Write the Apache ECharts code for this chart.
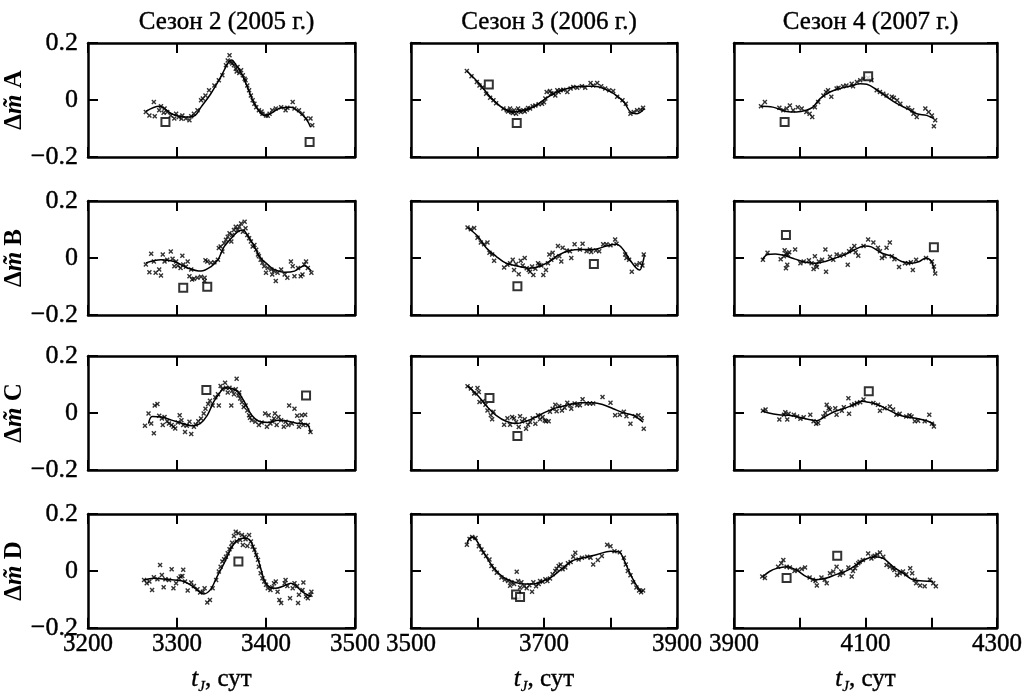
<!DOCTYPE html>
<html><head><meta charset="utf-8">
<script src="https://cdn.jsdelivr.net/npm/echarts@6/dist/echarts.min.js"></script>
<style>html,body{margin:0;padding:0;background:#fff}#c{width:1029px;height:696px}</style>
</head><body><div id="c"></div><script>
const seasonTitles = ['Сезон 2 (2005 г.)', 'Сезон 3 (2006 г.)', 'Сезон 4 (2007 г.)'];
const rowNames = ['A', 'B', 'C', 'D'];
const xRanges = [[3200, 3500], [3500, 3900], [3900, 4300]];
const yTicks = [-0.2, 0, 0.2];

// ---- Season 2 (2005) ----
const ptsA1 = [[3265,-0.042],[3269,-0.054],[3274,-0.007],[3275,-0.057],[3280,-0.036],[3282,-0.022],[3285,-0.045],[3286,-0.030],[3289,-0.042],[3293,-0.054],[3297,-0.065],[3299,-0.048],[3302,-0.060],[3305,-0.066],[3306,-0.054],[3310,-0.065],[3314,-0.071],[3316,-0.057],[3319,-0.048],[3323,-0.036],[3327,-0.001],[3329,0.005],[3332,0.016],[3336,0.034],[3342,0.051],[3347,0.069],[3351,0.087],[3355,0.122],[3357,0.139],[3359,0.157],[3361,0.133],[3362,0.128],[3364,0.122],[3366,0.110],[3367,0.100],[3368,0.116],[3370,0.095],[3372,0.104],[3374,0.087],[3376,0.075],[3377,0.069],[3379,0.051],[3381,0.034],[3383,0.016],[3385,-0.001],[3387,-0.013],[3389,-0.025],[3392,-0.036],[3395,-0.040],[3396,-0.048],[3400,-0.054],[3402,-0.055],[3404,-0.048],[3407,-0.036],[3411,-0.030],[3417,-0.025],[3422,-0.036],[3424,-0.027],[3430,-0.007],[3432,-0.030],[3437,-0.036],[3441,-0.048],[3445,-0.065],[3450,-0.065],[3452,-0.089]];
const lineA1 = [[3265,-0.040],[3280,-0.022],[3295,-0.050],[3310,-0.060],[3320,-0.055],[3327,-0.025],[3338,0.022],[3349,0.080],[3357,0.128],[3361,0.140],[3367,0.120],[3373,0.090],[3379,0.046],[3387,-0.013],[3398,-0.054],[3405,-0.048],[3417,-0.027],[3428,-0.025],[3437,-0.042],[3445,-0.066],[3450,-0.095]];
const sqA1 = [[3287,-0.077],[3449,-0.147]];

const ptsB1 = [[3265,-0.023],[3269,-0.050],[3271,0.015],[3274,-0.012],[3276,-0.052],[3280,-0.040],[3282,-0.061],[3284,0.012],[3286,-0.012],[3289,-0.006],[3293,0.023],[3295,-0.003],[3297,-0.029],[3299,-0.012],[3301,-0.027],[3304,-0.035],[3306,0.008],[3307,-0.023],[3310,-0.031],[3312,-0.012],[3314,-0.064],[3316,-0.040],[3317,-0.075],[3319,-0.073],[3323,-0.069],[3327,-0.066],[3331,-0.069],[3331,-0.081],[3332,-0.008],[3334,-0.012],[3338,-0.017],[3342,-0.015],[3346,-0.006],[3347,0.035],[3349,0.040],[3351,0.023],[3353,0.052],[3355,0.064],[3357,0.075],[3359,0.087],[3361,0.058],[3362,0.081],[3364,0.098],[3366,0.110],[3368,0.098],[3370,0.110],[3372,0.121],[3374,0.092],[3376,0.127],[3377,0.104],[3379,0.081],[3381,0.069],[3383,0.058],[3385,0.040],[3387,0.046],[3389,0.029],[3391,0.012],[3392,0.006],[3394,-0.006],[3396,-0.017],[3398,-0.029],[3400,-0.052],[3402,-0.035],[3406,-0.040],[3407,-0.058],[3409,-0.046],[3411,-0.081],[3413,-0.052],[3417,-0.040],[3421,-0.058],[3424,-0.069],[3428,-0.012],[3430,-0.029],[3432,-0.064],[3436,-0.035],[3439,-0.064],[3441,-0.058],[3443,-0.023],[3445,-0.012],[3447,-0.035],[3451,-0.052]];
const lineB1 = [[3265,-0.017],[3282,-0.006],[3297,-0.012],[3312,-0.035],[3327,-0.046],[3338,-0.031],[3346,-0.006],[3353,0.040],[3361,0.069],[3368,0.092],[3374,0.098],[3379,0.081],[3387,0.040],[3394,0.000],[3402,-0.023],[3409,-0.040],[3421,-0.050],[3432,-0.046],[3443,-0.027],[3451,-0.046]];
const sqB1 = [[3307,-0.104],[3334,-0.101]];

const ptsC1 = [[3264,-0.045],[3268,-0.002],[3271,-0.037],[3274,-0.071],[3275,0.026],[3278,0.032],[3280,-0.010],[3283,-0.019],[3284,-0.042],[3286,-0.014],[3289,-0.029],[3291,-0.037],[3294,-0.042],[3296,-0.048],[3298,-0.054],[3301,-0.033],[3303,-0.008],[3305,-0.025],[3307,-0.042],[3309,-0.067],[3311,-0.045],[3314,-0.031],[3316,-0.074],[3319,-0.048],[3321,-0.040],[3324,-0.029],[3327,-0.019],[3330,-0.002],[3332,0.015],[3335,0.032],[3337,0.043],[3340,0.026],[3343,0.055],[3346,0.066],[3347,0.026],[3349,0.095],[3351,0.083],[3354,0.106],[3355,0.089],[3357,0.072],[3359,0.089],[3361,0.026],[3362,0.078],[3364,0.066],[3366,0.083],[3367,0.120],[3369,0.061],[3370,0.072],[3371,0.051],[3373,0.038],[3375,0.021],[3377,0.026],[3379,0.009],[3381,-0.008],[3382,-0.017],[3384,-0.025],[3388,-0.031],[3392,-0.042],[3395,-0.033],[3399,-0.002],[3401,-0.048],[3403,-0.008],[3405,-0.037],[3407,-0.029],[3409,-0.019],[3410,-0.002],[3412,-0.042],[3414,-0.014],[3417,-0.025],[3420,-0.048],[3422,-0.031],[3425,-0.042],[3426,0.026],[3429,-0.037],[3432,0.015],[3435,-0.010],[3437,-0.048],[3439,-0.029],[3440,-0.008],[3442,-0.042],[3444,-0.006],[3447,-0.042],[3450,-0.067]];
const lineC1 = [[3268,-0.037],[3272,-0.012],[3283,-0.014],[3294,-0.025],[3306,-0.037],[3317,-0.045],[3326,-0.037],[3334,-0.008],[3341,0.038],[3347,0.066],[3354,0.089],[3362,0.086],[3369,0.072],[3377,0.032],[3384,-0.008],[3392,-0.029],[3403,-0.033],[3414,-0.025],[3425,-0.029],[3437,-0.037],[3446,-0.040],[3450,-0.067]];
const sqC1 = [[3333,0.081],[3445,0.061]];

const ptsD1 = [[3263,-0.032],[3266,-0.043],[3269,-0.037],[3272,-0.067],[3274,-0.022],[3278,-0.029],[3281,0.021],[3283,-0.014],[3285,-0.057],[3287,-0.029],[3291,-0.032],[3294,0.006],[3296,-0.061],[3299,-0.043],[3302,-0.026],[3304,-0.020],[3306,-0.018],[3307,0.004],[3309,-0.037],[3312,-0.069],[3316,-0.041],[3319,-0.053],[3323,-0.064],[3326,-0.076],[3329,-0.073],[3331,-0.061],[3334,-0.111],[3337,-0.102],[3340,-0.061],[3344,-0.032],[3347,-0.002],[3349,0.015],[3351,0.033],[3353,0.041],[3355,0.050],[3357,0.062],[3359,0.076],[3361,0.085],[3362,0.099],[3364,0.123],[3366,0.138],[3367,0.103],[3369,0.132],[3371,0.109],[3373,0.126],[3374,0.091],[3376,0.120],[3377,0.111],[3379,0.088],[3381,0.126],[3383,0.103],[3385,0.085],[3387,0.074],[3389,0.056],[3391,0.039],[3392,0.015],[3394,-0.008],[3396,-0.026],[3398,-0.037],[3400,-0.049],[3402,-0.061],[3405,-0.067],[3407,-0.057],[3409,-0.043],[3411,-0.037],[3413,-0.073],[3415,-0.102],[3417,-0.113],[3421,-0.043],[3422,-0.032],[3424,-0.053],[3427,-0.096],[3430,-0.061],[3432,-0.043],[3435,-0.053],[3436,-0.113],[3437,-0.084],[3441,-0.067],[3442,-0.041],[3445,-0.090],[3447,-0.096],[3450,-0.084],[3451,-0.073]];
const lineD1 = [[3263,-0.032],[3274,-0.026],[3286,-0.029],[3297,-0.032],[3308,-0.037],[3317,-0.053],[3325,-0.073],[3330,-0.081],[3338,-0.064],[3345,-0.020],[3353,0.027],[3360,0.074],[3366,0.103],[3374,0.115],[3381,0.111],[3387,0.074],[3393,0.021],[3398,-0.032],[3404,-0.057],[3411,-0.061],[3420,-0.053],[3428,-0.043],[3435,-0.057],[3443,-0.078],[3451,-0.090]];
const sqD1 = [[3369,0.033]];

// ---- Season 3 (2006) ----
const ptsA2 = [[3584,0.102],[3591,0.083],[3599,0.063],[3603,0.051],[3607,0.043],[3613,0.022],[3619,0.008],[3624,-0.001],[3628,-0.011],[3639,-0.030],[3644,-0.036],[3646,-0.040],[3649,-0.030],[3651,-0.042],[3653,-0.046],[3655,-0.036],[3658,-0.048],[3661,-0.030],[3663,-0.038],[3665,-0.042],[3669,-0.036],[3671,-0.040],[3674,-0.034],[3676,-0.028],[3679,-0.030],[3683,-0.022],[3687,-0.019],[3692,-0.015],[3697,-0.013],[3700,-0.008],[3702,0.005],[3704,0.028],[3709,0.032],[3711,0.024],[3714,0.022],[3717,0.016],[3720,0.034],[3722,0.028],[3725,0.034],[3729,0.036],[3735,0.028],[3740,0.040],[3744,0.046],[3750,0.043],[3757,0.048],[3762,0.043],[3770,0.060],[3774,0.051],[3780,0.060],[3786,0.048],[3792,0.040],[3798,0.034],[3804,0.032],[3810,0.011],[3818,-0.001],[3823,-0.013],[3830,-0.048],[3835,-0.042],[3840,-0.036],[3845,-0.034],[3849,-0.027]];
const lineA2 = [[3584,0.102],[3603,0.057],[3619,0.011],[3639,-0.030],[3654,-0.042],[3669,-0.036],[3684,-0.025],[3699,-0.001],[3714,0.022],[3729,0.036],[3745,0.046],[3760,0.048],[3775,0.048],[3790,0.040],[3805,0.022],[3820,-0.007],[3830,-0.042],[3840,-0.048],[3851,-0.030]];
const sqA2 = [[3617,0.054],[3659,-0.081]];

const ptsB2 = [[3585,0.107],[3590,0.101],[3595,0.105],[3600,0.071],[3605,0.054],[3610,0.048],[3615,0.054],[3618,0.018],[3622,0.012],[3625,-0.010],[3640,-0.033],[3645,-0.024],[3649,-0.018],[3653,-0.006],[3655,-0.042],[3658,-0.021],[3662,-0.057],[3665,-0.010],[3668,-0.026],[3671,0.000],[3674,-0.036],[3677,-0.042],[3679,-0.048],[3682,-0.030],[3684,-0.060],[3687,-0.038],[3691,-0.018],[3693,-0.024],[3696,-0.026],[3699,-0.060],[3703,-0.042],[3706,-0.018],[3708,0.012],[3711,-0.006],[3713,0.018],[3717,0.002],[3721,0.042],[3723,0.006],[3726,-0.012],[3728,0.036],[3734,0.026],[3739,0.024],[3741,0.000],[3746,0.048],[3754,0.030],[3758,0.050],[3764,0.024],[3769,0.030],[3771,0.021],[3778,0.026],[3783,0.024],[3789,0.048],[3794,0.048],[3800,0.045],[3807,0.065],[3809,0.050],[3822,0.012],[3824,0.000],[3828,-0.006],[3832,-0.048],[3839,-0.024],[3844,-0.018],[3848,-0.026],[3850,0.012]];
const lineB2 = [[3585,0.107],[3600,0.077],[3613,0.036],[3628,0.006],[3643,-0.018],[3663,-0.030],[3678,-0.036],[3693,-0.030],[3708,-0.012],[3723,0.012],[3739,0.026],[3754,0.030],[3774,0.030],[3794,0.042],[3809,0.048],[3819,0.030],[3829,-0.006],[3839,-0.036],[3844,-0.042],[3849,-0.012],[3851,0.012]];
const sqB2 = [[3660,-0.099],[3775,-0.021]];

const ptsC2 = [[3585,0.094],[3590,0.086],[3595,0.068],[3600,0.088],[3602,0.074],[3603,0.039],[3608,0.041],[3612,0.029],[3615,0.009],[3620,-0.008],[3624,0.004],[3622,-0.022],[3640,-0.041],[3645,-0.018],[3649,-0.041],[3652,-0.014],[3655,-0.018],[3658,-0.032],[3662,-0.049],[3664,-0.011],[3667,-0.029],[3671,-0.022],[3673,-0.055],[3676,-0.041],[3679,-0.032],[3683,-0.018],[3687,-0.038],[3691,-0.008],[3694,-0.022],[3698,-0.014],[3701,-0.026],[3703,-0.029],[3707,-0.029],[3709,0.004],[3713,0.015],[3717,0.029],[3719,0.006],[3723,0.025],[3727,0.009],[3731,0.018],[3735,0.036],[3739,0.027],[3741,0.015],[3746,0.033],[3750,0.027],[3754,0.027],[3758,0.048],[3764,0.033],[3769,0.033],[3774,0.033],[3788,0.056],[3800,0.036],[3807,-0.008],[3814,-0.006],[3820,0.004],[3824,-0.011],[3830,-0.038],[3837,-0.011],[3842,-0.008],[3847,-0.018],[3850,-0.055]];
const lineC2 = [[3585,0.095],[3600,0.062],[3615,0.021],[3628,-0.008],[3643,-0.029],[3658,-0.037],[3673,-0.029],[3688,-0.014],[3703,0.004],[3718,0.018],[3734,0.027],[3754,0.036],[3774,0.036],[3789,0.029],[3804,0.015],[3819,0.001],[3834,-0.008],[3849,-0.032]];
const sqC2 = [[3618,0.053],[3660,-0.081]];

const ptsD2 = [[3584,0.092],[3588,0.112],[3592,0.119],[3597,0.116],[3602,0.087],[3606,0.075],[3609,0.064],[3613,0.052],[3618,0.040],[3621,0.017],[3625,0.006],[3629,-0.006],[3636,-0.023],[3641,-0.031],[3646,-0.035],[3649,-0.052],[3651,-0.040],[3655,-0.046],[3659,-0.003],[3661,-0.035],[3664,-0.058],[3666,-0.040],[3670,-0.054],[3674,-0.061],[3678,-0.050],[3682,-0.073],[3684,-0.040],[3688,-0.054],[3692,-0.046],[3694,-0.035],[3698,-0.038],[3702,-0.029],[3705,-0.035],[3709,-0.027],[3713,-0.012],[3717,0.000],[3719,0.008],[3722,0.017],[3725,0.023],[3728,0.006],[3732,0.012],[3736,0.027],[3740,0.031],[3744,0.050],[3747,0.064],[3752,0.040],[3757,0.046],[3765,0.050],[3770,0.046],[3774,0.023],[3781,0.038],[3787,0.052],[3795,0.092],[3800,0.087],[3806,0.069],[3814,0.066],[3820,0.046],[3823,0.023],[3826,0.000],[3830,-0.015],[3834,-0.040],[3839,-0.058],[3843,-0.069],[3846,-0.075],[3849,-0.069]];
const lineD2 = [[3584,0.096],[3591,0.119],[3597,0.112],[3608,0.069],[3624,0.012],[3639,-0.023],[3654,-0.038],[3669,-0.046],[3684,-0.046],[3699,-0.035],[3714,-0.017],[3729,0.012],[3745,0.038],[3760,0.046],[3780,0.058],[3800,0.069],[3813,0.066],[3820,0.040],[3830,-0.012],[3840,-0.054],[3848,-0.075]];
const sqD2 = [[3658,-0.083],[3664,-0.092]];

// ---- Season 4 (2007) ----
const ptsA3 = [[3941,-0.022],[3947,-0.007],[3969,-0.027],[3975,-0.036],[3980,-0.030],[3985,-0.019],[3990,-0.036],[3997,-0.025],[4003,-0.030],[4010,-0.042],[4015,-0.048],[4019,-0.060],[4023,-0.025],[4028,-0.007],[4036,0.016],[4040,0.028],[4043,0.034],[4048,0.011],[4056,0.040],[4059,0.043],[4066,0.048],[4071,0.051],[4079,0.057],[4081,0.048],[4087,0.063],[4092,0.069],[4097,0.075],[4104,0.078],[4109,0.069],[4117,0.034],[4122,0.028],[4127,0.022],[4132,0.016],[4140,0.011],[4143,0.008],[4148,-0.001],[4153,-0.013],[4165,-0.027],[4171,-0.036],[4173,-0.048],[4178,-0.060],[4191,-0.030],[4196,-0.042],[4201,-0.054],[4206,-0.071],[4204,-0.092]];
const lineA3 = [[3941,-0.022],[3959,-0.025],[3980,-0.040],[3995,-0.042],[4010,-0.036],[4020,-0.025],[4031,0.005],[4046,0.028],[4061,0.040],[4076,0.048],[4092,0.057],[4102,0.055],[4117,0.036],[4132,0.011],[4148,-0.013],[4163,-0.030],[4178,-0.048],[4193,-0.054],[4204,-0.065]];
const sqA3 = [[3977,-0.077],[4104,0.083]];

const ptsB3 = [[3944,-0.006],[3951,0.018],[3971,-0.004],[3976,0.006],[3977,0.027],[3979,0.015],[3982,0.012],[3984,0.020],[3981,-0.024],[3979,-0.036],[3993,0.030],[4001,-0.018],[4006,-0.012],[4014,-0.008],[4018,-0.018],[4021,-0.039],[4023,0.006],[4025,-0.024],[4026,-0.032],[4029,-0.012],[4034,-0.006],[4039,0.030],[4040,-0.048],[4046,0.004],[4051,-0.006],[4056,0.012],[4061,0.008],[4067,0.012],[4073,-0.024],[4075,0.024],[4079,0.032],[4083,0.042],[4085,0.020],[4089,0.008],[4097,0.042],[4104,0.065],[4112,0.054],[4119,0.036],[4122,0.024],[4125,0.000],[4129,0.006],[4132,0.036],[4137,0.054],[4140,0.006],[4144,-0.004],[4151,-0.032],[4160,-0.018],[4165,-0.018],[4169,-0.015],[4172,-0.042],[4177,-0.006],[4192,0.000],[4201,-0.012],[4204,-0.030],[4206,-0.054]];
const lineB3 = [[3943,-0.006],[3951,0.012],[3963,0.014],[3978,0.008],[3993,-0.004],[4009,-0.015],[4024,-0.018],[4039,-0.012],[4054,0.000],[4069,0.012],[4084,0.030],[4099,0.042],[4109,0.039],[4124,0.018],[4140,0.006],[4155,-0.012],[4170,-0.018],[4182,-0.012],[4192,0.000],[4200,-0.012],[4205,-0.048]];
const sqB3 = [[3979,0.081],[4204,0.038]];

const ptsC3 = [[3944,0.008],[3948,0.012],[3969,-0.023],[3976,-0.006],[3978,0.003],[3981,-0.023],[3983,-0.003],[3991,-0.006],[3996,-0.012],[4001,-0.020],[4006,-0.015],[4016,-0.006],[4021,-0.029],[4025,-0.038],[4028,-0.035],[4036,-0.012],[4039,0.000],[4041,0.029],[4044,0.017],[4046,0.012],[4054,0.017],[4056,-0.006],[4064,0.008],[4067,0.020],[4074,0.052],[4075,-0.003],[4079,0.027],[4083,0.031],[4087,0.035],[4092,0.038],[4097,0.047],[4112,0.035],[4119,0.029],[4122,0.008],[4129,0.017],[4137,0.023],[4142,0.012],[4147,-0.006],[4152,-0.003],[4162,-0.012],[4167,-0.008],[4170,-0.012],[4175,-0.029],[4180,-0.027],[4190,-0.029],[4197,-0.006],[4201,-0.038],[4204,-0.047]];
const lineC3 = [[3943,0.008],[3953,0.000],[3968,-0.006],[3983,-0.008],[3999,-0.015],[4014,-0.023],[4026,-0.027],[4039,-0.012],[4054,0.006],[4069,0.017],[4084,0.031],[4094,0.041],[4104,0.038],[4119,0.029],[4134,0.012],[4150,-0.006],[4165,-0.015],[4180,-0.020],[4195,-0.029],[4205,-0.041]];
const sqC3 = [[4105,0.076]];

const ptsD3 = [[3943,-0.020],[3947,-0.025],[3967,0.015],[3972,0.027],[3975,0.038],[3980,0.015],[3985,0.012],[3992,0.000],[3997,0.003],[4003,0.007],[4008,0.012],[4015,-0.023],[4020,-0.031],[4024,-0.035],[4026,-0.051],[4033,-0.023],[4038,-0.031],[4041,-0.043],[4046,-0.008],[4051,-0.002],[4056,0.015],[4061,-0.014],[4063,-0.002],[4066,-0.008],[4074,0.012],[4079,-0.020],[4081,0.000],[4084,0.009],[4086,0.021],[4089,0.027],[4091,0.032],[4096,0.038],[4104,0.061],[4109,0.044],[4112,0.050],[4114,0.053],[4118,0.058],[4122,0.065],[4127,0.050],[4132,0.021],[4137,0.015],[4142,0.009],[4144,0.003],[4148,-0.014],[4152,-0.008],[4157,-0.002],[4162,-0.012],[4168,0.009],[4171,-0.008],[4175,-0.031],[4177,-0.043],[4183,-0.051],[4190,-0.054],[4198,-0.031],[4203,-0.043],[4207,-0.054]];
const lineD3 = [[3944,-0.020],[3954,-0.002],[3965,0.009],[3980,0.015],[3995,0.003],[4010,-0.020],[4025,-0.031],[4041,-0.025],[4056,-0.012],[4071,0.000],[4086,0.021],[4101,0.042],[4114,0.050],[4127,0.044],[4142,0.015],[4157,-0.008],[4172,-0.031],[4188,-0.035],[4203,-0.037]];
const sqD3 = [[3980,-0.025],[4057,0.053]];

// panels[row][col] = [points, fit line, outliers]
const panels = [
  [[ptsA1, lineA1, sqA1], [ptsA2, lineA2, sqA2], [ptsA3, lineA3, sqA3]],
  [[ptsB1, lineB1, sqB1], [ptsB2, lineB2, sqB2], [ptsB3, lineB3, sqB3]],
  [[ptsC1, lineC1, sqC1], [ptsC2, lineC2, sqC2], [ptsC3, lineC3, sqC3]],
  [[ptsD1, lineD1, sqD1], [ptsD2, lineD2, sqD2], [ptsD3, lineD3, sqD3]]
];

// ---- layout ----
const FONT = '"Liberation Serif", "Times New Roman", serif';
const gLeft = [88, 411, 734];
const gWidth = [267, 266, 263];
const gTop = [43, 201, 356, 514];
const gHeight = 114;
const XSYM = 'path://M0,2L2,0L5,3L8,0L10,2L7,5L10,8L8,10L5,7L2,10L0,8L3,5Z';
const THICK = {textBorderColor: '#000', textBorderWidth: 0.4};

const grids = [], xAxes = [], yAxes = [], series = [];
const axisLine = {show: true, onZero: false, lineStyle: {color: '#000', width: 2.5}};
const axisTick = {show: true, inside: true, length: 10, lineStyle: {color: '#000', width: 2}};
const yFmt = v => Math.abs(v) < 1e-9 ? '0' : (v < 0 ? '\u2212' : '') + Math.abs(v).toFixed(1);

let gi = 0;
for (let r = 0; r < 4; r++) {
  for (let c = 0; c < 3; c++) {
    grids.push({left: gLeft[c], top: gTop[r], width: gWidth[c], height: gHeight, containLabel: false});
    const [mn, mx] = xRanges[c];
    const bottom = r === 3;
    xAxes.push({
      gridIndex: gi, type: 'value', position: 'bottom', min: mn, max: mx, interval: 100,
      axisLine, axisTick, splitLine: {show: false},
      axisLabel: Object.assign({
        show: bottom, showMinLabel: true, showMaxLabel: true, margin: 4,
        color: '#000', fontSize: 25, fontFamily: FONT,
        formatter: v => (c === 0 || (v - mn) % 200 === 0) ? String(v) : ''
      }, THICK),
      name: bottom ? '{t|t}{j|J}{n|, сут}' : '',
      nameLocation: 'middle', nameGap: 37,
      nameTextStyle: {
        color: '#000', fontFamily: FONT,
        rich: {
          t: Object.assign({fontSize: 25, fontStyle: 'italic', fontFamily: FONT, color: '#000', lineHeight: 30, verticalAlign: 'middle'}, THICK),
          j: Object.assign({fontSize: 15, fontStyle: 'italic', fontFamily: FONT, color: '#000', lineHeight: 14, verticalAlign: 'bottom'}, {textBorderColor: '#000', textBorderWidth: 0.3}),
          n: Object.assign({fontSize: 25, fontFamily: FONT, color: '#000', lineHeight: 30, verticalAlign: 'middle'}, THICK)
        }
      }
    });
    xAxes.push({
      gridIndex: gi, type: 'value', position: 'top', min: mn, max: mx, interval: 100,
      axisLine, axisTick, splitLine: {show: false}, axisLabel: {show: false}
    });
    yAxes.push({
      gridIndex: gi, type: 'value', position: 'left', min: yTicks[0], max: yTicks[2], interval: 0.2,
      axisLine, axisTick, splitLine: {show: false},
      axisLabel: Object.assign({show: c === 0, showMinLabel: true, showMaxLabel: true, margin: 10, color: '#000', fontSize: 26, fontFamily: FONT, formatter: yFmt}, THICK),
      name: c === 0 ? '{d|\u0394}{m|m\u0303}{d| ' + rowNames[r] + '}' : '',
      nameLocation: 'middle', nameGap: 52, nameRotate: 90,
      nameTextStyle: {
        color: '#000', fontFamily: FONT,
        rich: {
          d: {fontSize: 25, fontWeight: 'bold', fontFamily: FONT, color: '#000'},
          m: {fontSize: 25, fontWeight: 'bold', fontStyle: 'italic', fontFamily: FONT, color: '#000'}
        }
      }
    });
    yAxes.push({
      gridIndex: gi, type: 'value', position: 'right', min: yTicks[0], max: yTicks[2], interval: 0.2,
      axisLine, axisTick, splitLine: {show: false}, axisLabel: {show: false}
    });
    const [pts, fit, sq] = panels[r][c];
    series.push({
      type: 'line', xAxisIndex: 2 * gi, yAxisIndex: 2 * gi, data: fit, smooth: 0.35,
      showSymbol: false, lineStyle: {color: '#000', width: 1.5}, z: 2, silent: true
    });
    series.push({
      type: 'scatter', xAxisIndex: 2 * gi, yAxisIndex: 2 * gi, data: pts,
      symbol: XSYM, symbolSize: 5, itemStyle: {color: '#000'}, z: 3, silent: true
    });
    series.push({
      type: 'scatter', xAxisIndex: 2 * gi, yAxisIndex: 2 * gi, data: sq,
      symbol: 'rect', symbolSize: 8, itemStyle: {color: '#fff', borderColor: '#000', borderWidth: 2}, z: 4, silent: true
    });
    gi++;
  }
}

const titles = seasonTitles.map((t, c) => ({
  text: t, left: gLeft[c] + gWidth[c] / 2, top: 5, textAlign: 'center',
  textStyle: Object.assign({fontSize: 25, fontWeight: 'normal', fontFamily: FONT, color: '#000'}, {textBorderColor: '#000', textBorderWidth: 0.4})
}));

const chart = echarts.init(document.getElementById('c'), null, {renderer: 'canvas'});
chart.setOption({
  animation: false,
  backgroundColor: '#fff',
  title: titles,
  grid: grids, xAxis: xAxes, yAxis: yAxes, series
});
</script></body></html>
